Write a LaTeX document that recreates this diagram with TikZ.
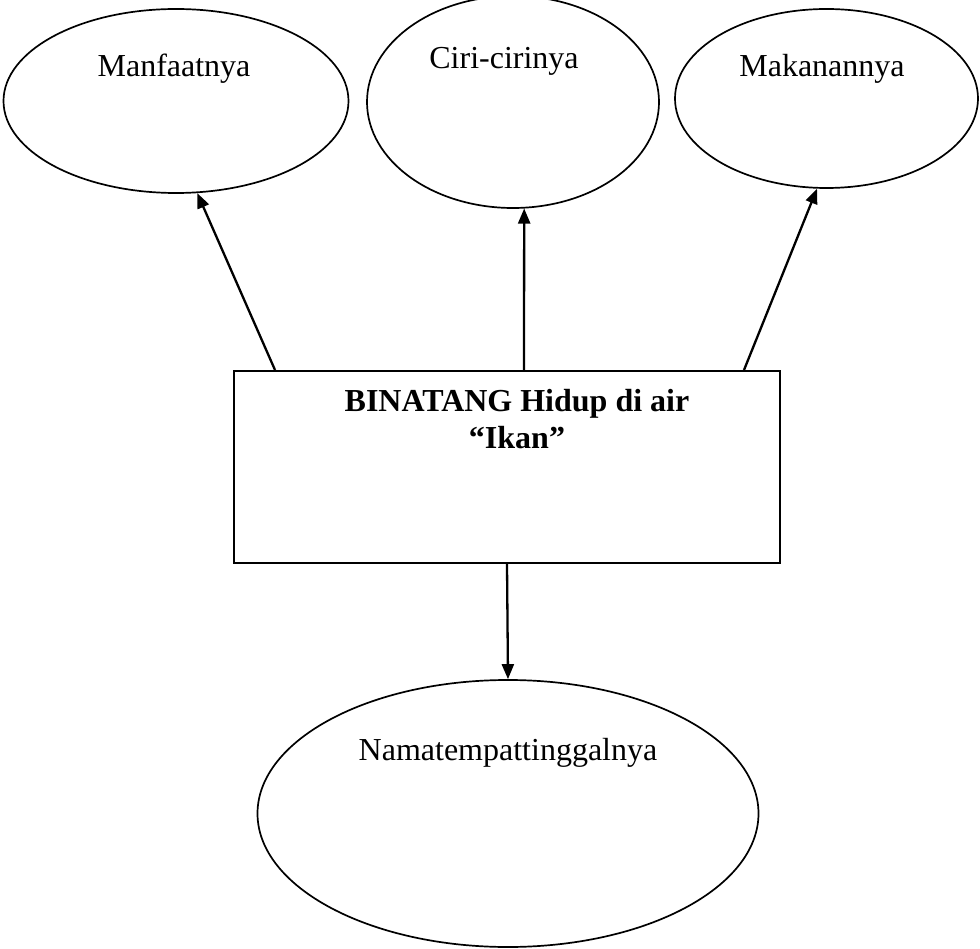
\documentclass[tikz,border=0pt]{standalone}
\usepackage{fontspec}
\setmainfont{Liberation Serif}
\usetikzlibrary{shapes.geometric,arrows.meta}
\begin{document}
\begin{tikzpicture}[x=1pt,y=-1pt,
  oval/.style={draw,ellipse,line width=1.7pt,inner sep=0pt},
  topic/.style={draw,rectangle,line width=2pt,inner sep=0pt,minimum width=546pt,minimum height=192pt},
  lbl/.style={font=\fontsize{32}{36}\selectfont,inner sep=0pt,anchor=base},
  arr/.style={line width=2.3pt,-{Triangle[length=15pt,width=12pt]}}]
\useasboundingbox (0,0) rectangle (980,949);
\node[oval,minimum width=345pt,minimum height=184pt] (e1) at (176,101) {};
\node[oval,minimum width=292pt,minimum height=212pt] (e2) at (513,102) {};
\node[oval,minimum width=303pt,minimum height=179pt] (e3) at (826.5,98.5) {};
\node[topic] (box) at (507,467) {};
\node[oval,minimum width=501pt,minimum height=267pt] (e4) at (508,813.5) {};
\node[lbl] (t1) at (174,77) {Manfaatnya};
\node[lbl] (t2) at (504,69) {Ciri-cirinya};
\node[lbl] (t3) at (822,77) {Makanannya};
\node[lbl,align=center,font=\fontsize{32}{36}\selectfont\bfseries] (t4) at (517,448) {BINATANG Hidup di air\\“Ikan”};
\node[lbl] (t5) at (508,760) {Namatempattinggalnya};
\draw[arr] ([xshift=42pt]box.north west) -- (e1.-77);
\draw[arr] ([xshift=291pt]box.north west) -- (e2.-84);
\draw[arr] ([xshift=511pt]box.north west) -- (e3.-96);
\draw[arr] (box.south) -- (e4.north);
\end{tikzpicture}
\end{document}
